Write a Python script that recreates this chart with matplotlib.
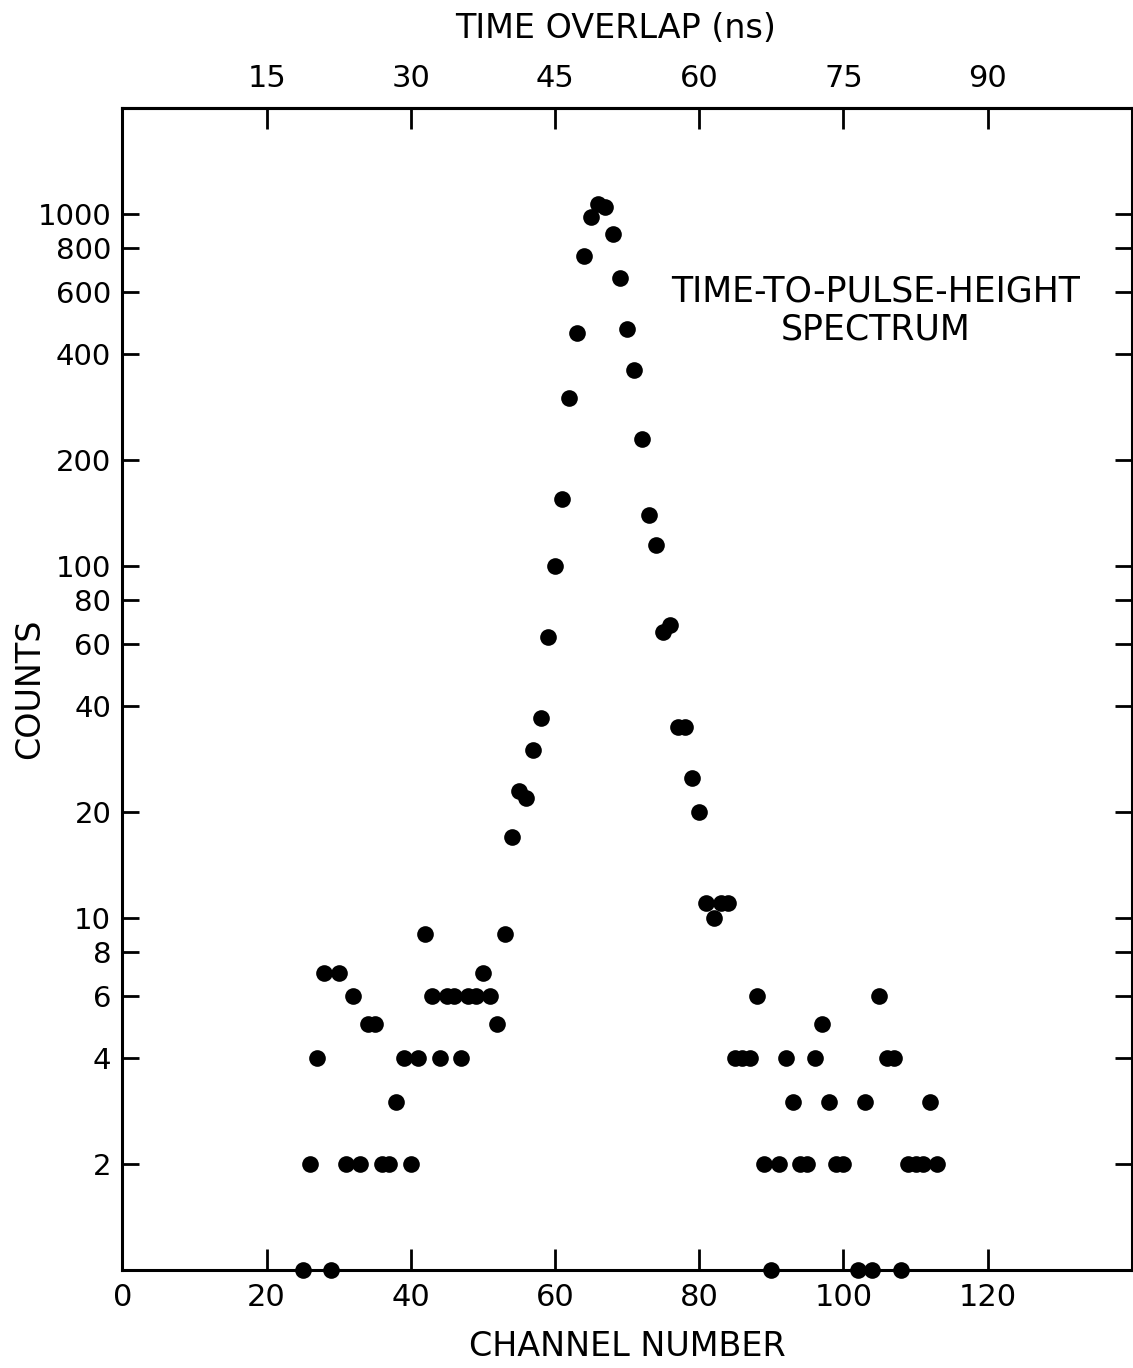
import matplotlib
matplotlib.use("Agg")
import matplotlib.pyplot as plt
from matplotlib.ticker import FixedLocator, NullLocator

plt.rcParams['font.family'] = ['DejaVu Sans']

# ---- data ----
channels = [25, 26, 27, 28, 29, 30, 31, 32, 33, 34, 35, 36, 37, 38, 39, 40, 41,
            42, 43, 44, 45, 46, 47, 48, 49, 50, 51, 52, 53, 54, 55, 56, 57, 58, 59,
            60, 61, 62, 63, 64, 65, 66, 67, 68, 69, 70, 71, 72, 73, 74, 75, 76, 77,
            78, 79, 80, 81, 82, 83, 84, 85, 86, 87, 88, 89, 90, 91, 92, 93, 94, 95,
            96, 97, 98, 99, 100, 102, 103, 104, 105, 106, 107, 108, 109, 110, 111,
            112, 113]
counts = [1, 2, 4, 7, 1, 7, 2, 6, 2, 5, 5, 2, 2, 3, 4, 2, 4,
          9, 6, 4, 6, 6, 4, 6, 6, 7, 6, 5, 9, 17, 23, 22, 30, 37, 63,
          100, 155, 300, 460, 760, 980, 1070, 1050, 880, 660, 470, 360, 230, 140, 115, 65, 68, 35,
          35, 25, 20, 11, 10, 11, 11, 4, 4, 4, 6, 2, 1, 2, 4, 3, 2, 2,
          4, 5, 3, 2, 2, 1, 3, 1, 6, 4, 4, 1, 2, 2, 2,
          3, 2]

x_ticks = [0, 20, 40, 60, 80, 100, 120]
y_ticks = [2, 4, 6, 8, 10, 20, 40, 60, 80, 100, 200, 400, 600, 800, 1000]
y_tick_labels = ['2', '4', '6', '8', '10', '20', '40', '60', '80', '100',
                 '200', '400', '600', '800', '1000']
time_ticks = [15, 30, 45, 60, 75, 90]
ns_per_channel = 0.75

fig = plt.figure(figsize=(11.33, 13.68), dpi=100)
ax = fig.add_axes([0.108, 0.0716, 0.891, 0.8494])

ax.plot(channels, counts, 'o', color='black', markersize=12,
        markeredgewidth=0, clip_on=False, zorder=3)

ax.set_yscale('log')
ax.set_xlim(0, 140)
ax.set_ylim(1, 2000)

ax.xaxis.set_major_locator(FixedLocator(x_ticks))
ax.xaxis.set_minor_locator(NullLocator())
ax.yaxis.set_major_locator(FixedLocator(y_ticks))
ax.yaxis.set_minor_locator(NullLocator())
ax.set_yticklabels(y_tick_labels)

ax.tick_params(axis='x', which='major', direction='in', length=15, width=2,
               labelsize=22, pad=9, bottom=True, top=False)
ax.tick_params(axis='y', which='major', direction='in', length=12, width=2,
               labelsize=21, pad=8, left=True, right=True)
for s in ax.spines.values():
    s.set_linewidth(2.2)

sec = ax.secondary_xaxis('top', functions=(lambda c: c * ns_per_channel,
                                             lambda t: t / ns_per_channel))
sec.xaxis.set_major_locator(FixedLocator(time_ticks))
sec.xaxis.set_minor_locator(NullLocator())
sec.tick_params(axis='x', direction='in', length=15, width=2, labelsize=22, pad=11)
sec.spines['top'].set_linewidth(2.2)

ax.set_xlabel('CHANNEL NUMBER', fontsize=24)
ax.xaxis.set_label_coords(0.5, -0.052)
ax.set_ylabel('COUNTS', fontsize=24)
ax.yaxis.set_label_coords(-0.0755, 0.5)

fig.text(616 / 1133, 1 - 28 / 1368, 'TIME OVERLAP (ns)', fontsize=24,
         ha='center', va='center')

ax.text(0.746, 0.826, 'TIME-TO-PULSE-HEIGHT\nSPECTRUM', transform=ax.transAxes,
        fontsize=25, ha='center', va='center', linespacing=1.15)

fig.savefig('out.png', dpi=100)
